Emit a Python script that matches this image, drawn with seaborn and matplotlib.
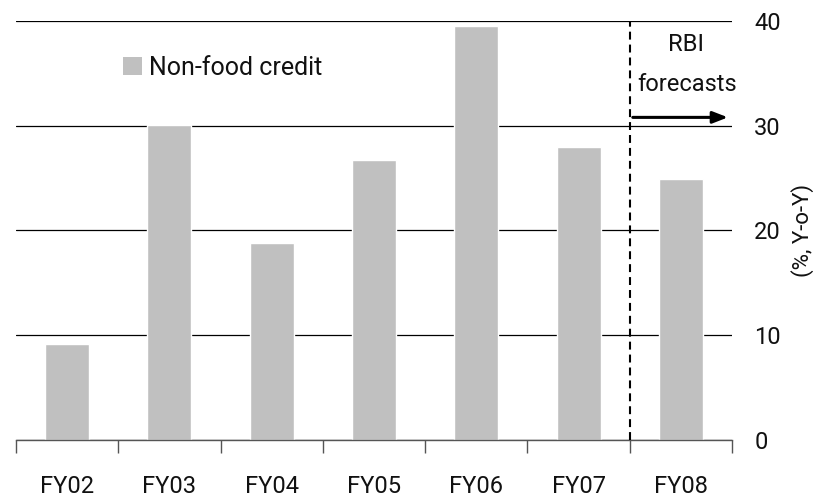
import numpy as np
import pandas as pd
import matplotlib
matplotlib.use("Agg")
import matplotlib.pyplot as plt
from matplotlib.patches import Patch
import seaborn as sns

# Non-food credit growth, % year on year
years = ["FY02", "FY03", "FY04", "FY05", "FY06", "FY07", "FY08"]
growth = [9.2, 30.1, 18.8, 26.7, 39.5, 28.0, 24.9]
y_ticks = [0, 10, 20, 30, 40]

sns.set_style("white")
plt.rcParams["font.family"] = ["Roboto", "DejaVu Sans"]
FS = 17

df = pd.DataFrame({"year": years, "growth": growth})

fig = plt.figure(figsize=(8.21, 4.98), dpi=100)
ax = fig.add_axes([0.0195, 0.1165, 0.8721, 0.8413])

sns.barplot(data=df, x="year", y="growth", color="#c0c0c0", saturation=1,
            width=0.43, ax=ax, zorder=3)

ax.set_xlim(-0.5, len(years) - 0.5)
ax.set_ylim(0, 40)
ax.set_yticks(y_ticks)
ax.yaxis.grid(True, color="black", linewidth=0.9)
ax.set_axisbelow(True)

for side in ("top", "left", "right"):
    ax.spines[side].set_visible(False)
ax.spines["bottom"].set_color("#555555")
ax.spines["bottom"].set_linewidth(1.0)
ax.spines["bottom"].set_zorder(4)

# y axis labels on the right
ax.yaxis.tick_right()
ax.yaxis.set_label_position("right")
ax.tick_params(axis="y", length=0, pad=16, labelsize=FS, labelcolor="#111111")
ax.set_ylabel("(%, Y-o-Y)", fontsize=16, labelpad=7, color="#111111")

# category labels, tick marks between categories
ax.set_xlabel("")
ax.set_xticks(np.arange(-0.5, len(years), 1), minor=True)
ax.tick_params(axis="x", which="major", length=0, pad=25, labelsize=FS,
               labelcolor="#111111")
ax.tick_params(axis="x", which="minor", length=9, width=1.0, color="#555555",
               direction="out", bottom=True)

# forecast divider
ax.plot([5.5, 5.5], [0, 40], color="black", linewidth=1.5,
        linestyle=(0, (3.8, 2.4)), zorder=5, clip_on=False)
ax.text(6.05, 37.75, "RBI", ha="center", va="center", fontsize=FS,
        color="#111111")
ax.text(6.06, 33.9, "forecasts", ha="center", va="center", fontsize=FS,
        color="#111111")
ax.annotate("", xy=(6.46, 30.8), xytext=(5.53, 30.8),
            arrowprops=dict(arrowstyle="-|>,head_length=0.9,head_width=0.35",
                            color="black", linewidth=2.2, shrinkA=0, shrinkB=0))

ax.legend(handles=[Patch(facecolor="#c0c0c0", edgecolor="none")],
          labels=["Non-food credit"], loc="center left",
          bbox_to_anchor=(0.1494, 0.888), frameon=False, fontsize=18,
          handlelength=0.75, handleheight=0.75, handletextpad=0.3,
          borderaxespad=0, borderpad=0, labelcolor="#111111")

fig.savefig("out.png", dpi=100)
